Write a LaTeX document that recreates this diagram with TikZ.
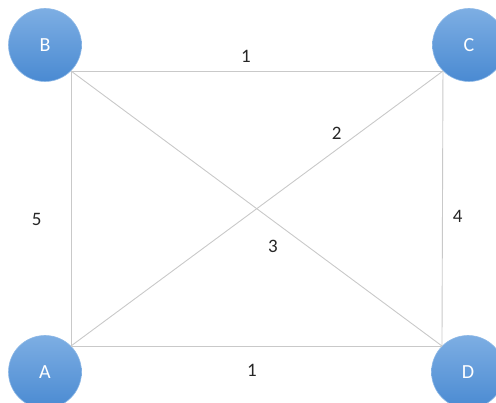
\documentclass[tikz,border=0pt]{standalone}
\usepackage{fontspec}
\setmainfont{Carlito}
\usepackage{xcolor}
\usepackage{tikz}
\usetikzlibrary{positioning,calc}
\definecolor{balltop}{HTML}{7DAEE3}
\definecolor{ballbot}{HTML}{4A8AD2}
\definecolor{ballrim}{HTML}{8DB8E6}
\definecolor{edgegrey}{HTML}{C9C9C9}
\definecolor{ink}{HTML}{262626}
\tikzset{
  vertex/.style={circle,minimum size=73pt,inner sep=0pt,draw=ballrim,line width=0.6pt,top color=balltop,bottom color=ballbot,text=white,font=\fontsize{20}{20}\selectfont},
  link/.style={draw=edgegrey,line width=0.9pt},
  weight/.style={font=\fontsize{19}{19}\selectfont,text=ink,inner sep=0pt}
}
\begin{document}
\begin{tikzpicture}[x=1pt,y=-1pt]
  \useasboundingbox (0,0) rectangle (496,403);
  \clip (0,0) rectangle (496,403);

  \node[vertex] (B) at (45,45) {B};
  \node[vertex] (C) at (469,45) {C};
  \node[vertex] (A) at (45,372) {A};
  \node[vertex] (D) at (468,372) {D};

  \draw[link] (B.south east) -- node[weight,pos=0.47,above=8pt] {1} (C.south west);
  \draw[link] (A.north east) -- node[weight,pos=0.488,below=18pt] {1} (D.north west);
  \draw[link] (A.north east) -- node[weight,pos=0.46,left=29pt] {5} (B.south east);
  \draw[link] (D.north west) -- node[weight,pos=0.47,right=10pt] {4} (C.south west);
  \draw[link] (A.north east) -- node[weight,pos=0.714,above=10pt] {2} (C.south west);
  \draw[link] (B.south east) -- node[weight,pos=0.544,below=19pt] {3} (D.north west);
\end{tikzpicture}
\end{document}
